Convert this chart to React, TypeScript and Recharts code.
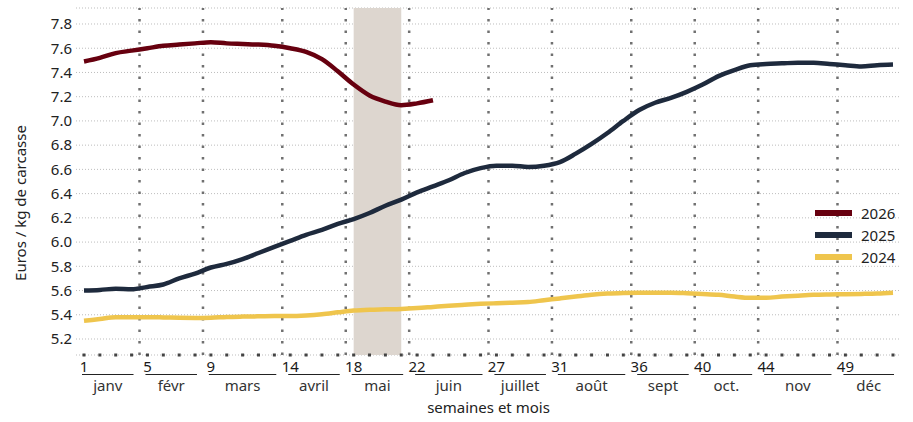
import { CartesianGrid, Line, LineChart, ReferenceArea, ReferenceLine, XAxis, YAxis } from "recharts";

const WEEKS = Array.from({ length: 52 }, (_, i) => i + 1);

const PRICES_2026 = [
  7.49, 7.52, 7.56, 7.58, 7.6, 7.62, 7.63, 7.64, 7.65, 7.64, 7.635, 7.63, 7.62, 7.6, 7.57, 7.51,
  7.41, 7.3, 7.21, 7.16, 7.13, 7.145, 7.17,
];

const PRICES_2025 = [
  5.6, 5.605, 5.615, 5.61, 5.63, 5.65, 5.7, 5.74, 5.79, 5.82, 5.86, 5.91, 5.96, 6.01, 6.06, 6.1,
  6.15, 6.19, 6.24, 6.3, 6.35, 6.41, 6.46, 6.51, 6.57, 6.61, 6.63, 6.63, 6.62, 6.63, 6.66, 6.73,
  6.81, 6.9, 7.0, 7.09, 7.15, 7.19, 7.24, 7.3, 7.37, 7.42, 7.46, 7.47, 7.475, 7.48, 7.48, 7.47,
  7.46, 7.45, 7.46, 7.465,
];

const PRICES_2024 = [
  5.35, 5.365, 5.38, 5.38, 5.38, 5.378, 5.375, 5.374, 5.376, 5.382, 5.385, 5.387, 5.39, 5.39,
  5.395, 5.405, 5.42, 5.435, 5.442, 5.445, 5.448, 5.455, 5.465, 5.475, 5.483, 5.49, 5.495, 5.5,
  5.505, 5.52, 5.535, 5.55, 5.565, 5.575, 5.58, 5.582, 5.582, 5.582, 5.578, 5.572, 5.565, 5.55,
  5.54, 5.54, 5.55, 5.558, 5.565, 5.568, 5.57, 5.572, 5.575, 5.582,
];

const MONTH_START_WEEKS = [1, 5, 9, 14, 18, 22, 27, 31, 36, 40, 44, 49];
const MONTH_NAMES = ["janv", "févr", "mars", "avril", "mai", "juin", "juillet", "août", "sept", "oct.", "nov", "déc"];
const Y_TICKS = [5.2, 5.4, 5.6, 5.8, 6.0, 6.2, 6.4, 6.6, 6.8, 7.0, 7.2, 7.4, 7.6, 7.8];
const HIGHLIGHT_WEEKS = [18, 21];

const SERIES = [
  { key: "y2026", label: "2026", color: "#67000f", values: PRICES_2026 },
  { key: "y2025", label: "2025", color: "#1e2a3d", values: PRICES_2025 },
  { key: "y2024", label: "2024", color: "#efc54d", values: PRICES_2024 },
];

const data = WEEKS.map((week, i) => {
  const row: Record<string, number | null> = { week };
  SERIES.forEach((s) => {
    row[s.key] = i < s.values.length ? s.values[i] : null;
  });
  return row;
});

const FONT = '"Noto Sans", sans-serif';
const WIDTH = 913;
const HEIGHT = 422;
const PLOT_LEFT = 76;
const PLOT_RIGHT = 900;
const PAD_L = 8;
const PAD_R = 7;
const STEP = (PLOT_RIGHT - PLOT_LEFT - PAD_L - PAD_R) / 51;
const weekX = (w: number) => PLOT_LEFT + PAD_L + (w - 1) * STEP;

const boundaries = MONTH_START_WEEKS.slice(1).map((w) => w - 0.5);

function MonthTick(props: any) {
  const { x, y, payload } = props;
  const idx = MONTH_START_WEEKS.indexOf(payload.value);
  const start = x - 2;
  const end = idx < MONTH_START_WEEKS.length - 1 ? weekX(boundaries[idx]) - 6 : weekX(52) + 1;
  return (
    <g>
      <text x={x} y={y + 17} textAnchor="middle" fontSize={15} fill="#1a1a1a" fontFamily={FONT}>
        {payload.value}
      </text>
      <line x1={start} x2={end} y1={y + 19.5} y2={y + 19.5} stroke="#222" strokeWidth={1} />
      <text x={(start + end) / 2} y={y + 36} textAnchor="middle" fontSize={15} fill="#333" fontFamily={FONT}>
        {MONTH_NAMES[idx]}
      </text>
    </g>
  );
}

export default function App() {
  return (
    <div style={{ position: "relative", width: WIDTH, height: HEIGHT, background: "#fff" }}>
      <style>{`body{margin:0}`}</style>
      <LineChart
        width={WIDTH}
        height={HEIGHT}
        data={data}
        margin={{ top: 8, right: WIDTH - PLOT_RIGHT, left: PLOT_LEFT - 50, bottom: 7 }}
      >
        <CartesianGrid vertical={false} stroke="#bdbdbd" strokeDasharray="1 2" />
        <ReferenceArea
          x1={HIGHLIGHT_WEEKS[0]}
          x2={HIGHLIGHT_WEEKS[1]}
          fill="#ddd6cf"
          fillOpacity={1}
          stroke="none"
        />
        {boundaries.map((b) => (
          <ReferenceLine
            key={b}
            x={b}
            stroke="#707070"
            strokeWidth={2.5}
            strokeDasharray="2.5 9"
          />
        ))}
        <XAxis
          dataKey="week"
          type="number"
          domain={[1, 52]}
          ticks={MONTH_START_WEEKS}
          interval={0}
          padding={{ left: PAD_L, right: PAD_R }}
          height={60}
          tickLine={false}
          tickSize={0}
          tickMargin={0}
          tick={<MonthTick />}
          axisLine={{
            stroke: "#444",
            strokeWidth: 3,
            strokeDasharray: `3 ${STEP - 3}`,
            strokeDashoffset: STEP - PAD_L + 1.5,
          }}
        />
        <YAxis
          type="number"
          domain={[5.068, 7.932]}
          ticks={Y_TICKS}
          width={50}
          axisLine={false}
          tickLine={false}
          tickSize={4}
          tickMargin={0}
          allowDataOverflow
          tickFormatter={(v: number) => v.toFixed(1)}
          tick={{ fontSize: 15, fill: "#222", fontFamily: FONT }}
        />
        {SERIES.map((s) => (
          <Line
            key={s.key}
            type="monotone"
            dataKey={s.key}
            stroke={s.color}
            strokeWidth={4.5}
            dot={false}
            activeDot={false}
            connectNulls={false}
            isAnimationActive={false}
          />
        ))}
      </LineChart>
      <svg
        width={WIDTH}
        height={HEIGHT}
        style={{ position: "absolute", left: 0, top: 0, pointerEvents: "none" }}
      >
        <text
          x={0}
          y={0}
          transform="translate(26,203) rotate(-90)"
          textAnchor="middle"
          fontSize={15}
          fill="#222"
          fontFamily={FONT}
        >
          Euros / kg de carcasse
        </text>
        <text
          x={(weekX(1) + weekX(52)) / 2}
          y={413}
          textAnchor="middle"
          fontSize={15}
          fill="#222"
          fontFamily={FONT}
        >
          semaines et mois
        </text>
        {SERIES.map((s, i) => (
          <g key={s.key}>
            <rect x={815} y={210 + i * 22} width={37} height={6} fill={s.color} />
            <text x={861} y={218.5 + i * 22} fontSize={15} fill="#222" fontFamily={FONT}>
              {s.label}
            </text>
          </g>
        ))}
      </svg>
    </div>
  );
}
